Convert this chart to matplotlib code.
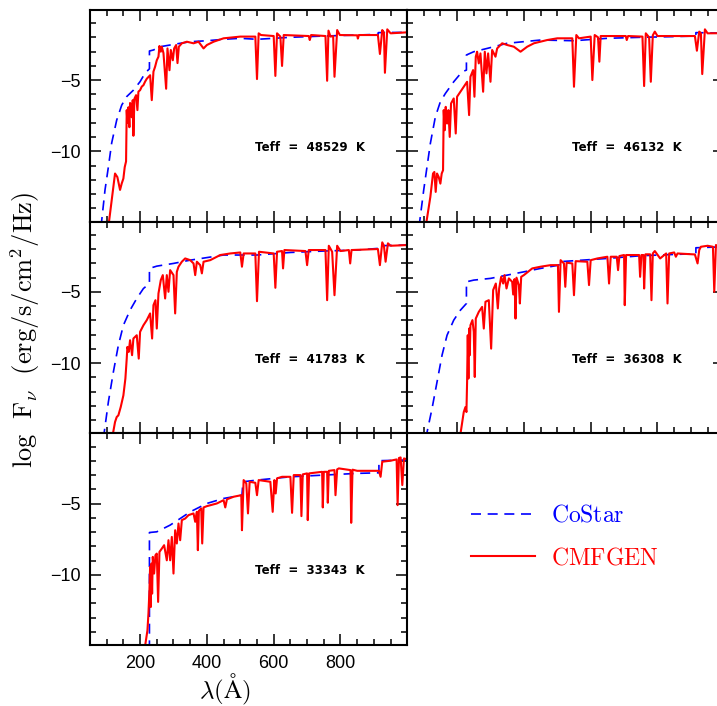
import numpy as np
import matplotlib
matplotlib.use('Agg')
import matplotlib.pyplot as plt
from matplotlib.ticker import MultipleLocator

plt.rcParams['font.family'] = ['Liberation Sans', 'DejaVu Sans']
plt.rcParams['mathtext.fontset'] = 'cm'

# --- data: wavelength (A) and log F_nu ---
teffs = [48529, 46132, 41783, 36308, 33343]

# Teff = 48529 K
costar_wl_1 = [83, 95, 105, 115, 130, 145, 160, 180, 200, 215,
               228, 228, 240, 260, 290, 320, 350, 400, 450, 500,
               550, 600, 650, 750, 850, 913, 913, 1000]
costar_lf_1 = [-15.3, -12.7, -11.1, -9.4, -7.8, -6.75, -6.15, -5.7, -5.1, -4.5,
               -4.2, -2.95, -2.88, -2.65, -2.53, -2.41, -2.30, -2.23, -2.13, -2.06,
               -2.13, -2.06, -1.99, -1.90, -1.83, -1.78, -1.66, -1.64]
cmfgen_wl_1 = [105, 125, 132, 140, 145, 150, 154, 158, 160, 162,
               165, 168, 170, 175, 178, 180, 183, 188, 192, 195,
               200, 205, 210, 215, 220, 230, 235, 240, 245, 250,
               255, 258, 262, 265, 270, 278, 282, 288, 292, 298,
               302, 308, 312, 316, 325, 340, 360, 375, 390, 400,
               420, 450, 500, 545, 550, 555, 562, 600, 605, 610,
               620, 625, 630, 705, 708, 712, 755, 760, 764, 770,
               778, 782, 790, 798, 850, 852, 855, 912, 918, 925,
               930, 933, 940, 950, 1000]
cmfgen_lf_1 = [-15.3, -11.55, -11.8, -12.7, -12.25, -11.9, -11.1, -10.7, -7.1, -8.0,
               -6.9, -8.3, -6.6, -7.6, -6.4, -8.9, -6.3, -6.05, -7.1, -5.8,
               -5.7, -5.45, -5.35, -5.1, -4.9, -4.65, -6.4, -4.4, -4.05, -3.6,
               -3.35, -2.6, -3.0, -2.65, -3.1, -5.6, -2.77, -4.3, -2.88, -3.6,
               -2.77, -2.53, -3.8, -2.65, -2.41, -2.3, -2.41, -2.3, -2.77, -2.53,
               -2.3, -2.06, -1.94, -1.94, -4.92, -1.71, -1.83, -1.9, -4.7, -1.71,
               -1.94, -4.0, -1.83, -1.9, -2.18, -1.83, -1.9, -5.04, -1.52, -1.94,
               -1.9, -4.76, -1.48, -1.83, -1.85, -2.08, -1.83, -1.83, -3.16, -1.48,
               -1.66, -4.48, -1.43, -1.71, -1.64]

# Teff = 46132 K
costar_wl_2 = [86, 100, 110, 120, 135, 150, 165, 190, 215, 228,
               228, 250, 290, 350, 450, 550, 650, 750, 850, 915,
               915, 1000]
costar_lf_2 = [-15.3, -12.73, -11.08, -9.44, -7.57, -6.51, -5.93, -5.11, -4.41, -4.29,
               -3.23, -3.0, -2.77, -2.41, -2.18, -2.23, -2.06, -1.99, -1.94, -1.9,
               -1.66, -1.7]
cmfgen_wl_2 = [106, 120, 128, 132, 136, 140, 145, 150, 154, 158,
               160, 163, 166, 170, 174, 178, 182, 190, 196, 200,
               210, 220, 230, 236, 240, 248, 252, 256, 260, 265,
               270, 278, 283, 288, 293, 300, 305, 315, 320, 335,
               350, 370, 390, 410, 430, 470, 500, 545, 550, 557,
               565, 600, 605, 612, 622, 626, 630, 705, 708, 712,
               755, 760, 765, 775, 780, 786, 792, 800, 912, 918,
               925, 930, 934, 942, 950, 1000]
cmfgen_lf_2 = [-15.3, -13.19, -11.55, -11.44, -12.84, -11.55, -11.79, -12.26, -11.55, -11.32,
               -7.10, -8.51, -6.87, -8.04, -7.10, -8.98, -6.63, -6.28, -8.74, -6.16,
               -5.81, -5.46, -5.11, -7.45, -4.76, -4.29, -6.16, -3.35, -3.0, -3.82,
               -3.12, -5.81, -3.0, -4.52, -3.12, -5.11, -2.88, -3.35, -2.77, -2.41,
               -2.53, -2.65, -3.0, -2.65, -2.41, -2.18, -2.06, -2.06, -5.46, -1.83,
               -2.06, -1.94, -4.99, -1.83, -1.99, -3.70, -1.90, -1.90, -2.18, -1.90,
               -1.94, -5.41, -1.71, -1.99, -5.11, -1.85, -1.59, -1.90, -1.90, -2.93,
               -1.59, -1.71, -4.57, -1.43, -1.71, -1.70]

# Teff = 41783 K
costar_wl_3 = [90, 105, 120, 135, 150, 170, 190, 210, 228, 228,
               250, 300, 350, 450, 550, 650, 750, 850, 915, 915,
               1000]
costar_lf_3 = [-15.3, -12.73, -10.62, -8.74, -7.34, -6.28, -5.46, -4.76, -4.41, -3.35,
               -3.19, -3.0, -2.77, -2.41, -2.41, -2.23, -2.13, -2.06, -1.94, -1.76,
               -1.71]
cmfgen_wl_3 = [116, 125, 130, 135, 142, 150, 156, 160, 162, 166,
               170, 176, 180, 190, 196, 200, 210, 220, 230, 236,
               240, 246, 250, 255, 262, 268, 275, 280, 285, 290,
               300, 305, 310, 315, 325, 335, 350, 360, 365, 370,
               380, 385, 390, 410, 440, 470, 500, 505, 510, 545,
               550, 556, 600, 605, 610, 625, 628, 632, 695, 700,
               705, 755, 760, 765, 775, 782, 790, 800, 825, 829,
               833, 912, 918, 925, 930, 935, 942, 950, 1000]
cmfgen_lf_3 = [-15.3, -14.13, -13.78, -13.66, -13.08, -12.26, -11.08, -9.68, -8.86, -9.21,
               -8.39, -9.44, -8.27, -8.04, -9.68, -7.80, -7.34, -6.98, -6.51, -8.27,
               -5.93, -5.58, -7.57, -5.11, -4.17, -3.82, -5.46, -3.82, -4.99, -3.47,
               -3.82, -6.51, -3.59, -3.23, -2.88, -2.65, -2.77, -3.0, -3.82, -2.88,
               -3.12, -3.70, -2.88, -2.77, -2.41, -2.30, -2.23, -3.23, -2.30, -2.30,
               -5.65, -2.18, -2.30, -4.71, -2.18, -2.13, -3.35, -2.06, -2.13, -3.12,
               -2.06, -2.06, -5.58, -1.76, -2.18, -5.23, -1.76, -2.13, -2.06, -3.0,
               -2.06, -1.99, -3.12, -1.52, -1.76, -2.88, -1.59, -1.76, -1.71]

# Teff = 36308 K
costar_wl_4 = [106, 125, 140, 155, 170, 190, 210, 228, 228, 250,
               300, 350, 400, 450, 505, 505, 550, 650, 750, 850,
               915, 915, 1000]
costar_lf_4 = [-15.3, -13.19, -11.32, -9.44, -8.04, -6.98, -6.28, -5.81, -4.29, -4.17,
               -4.05, -3.82, -3.59, -3.35, -3.12, -2.88, -2.81, -2.65, -2.46, -2.37,
               -2.32, -1.90, -1.83]
cmfgen_wl_4 = [208, 220, 225, 228, 230, 232, 234, 236, 238, 240,
               246, 250, 253, 256, 265, 275, 280, 285, 295, 302,
               308, 316, 322, 326, 332, 338, 342, 348, 355, 365,
               368, 372, 375, 378, 385, 388, 392, 400, 425, 450,
               480, 502, 505, 510, 520, 524, 528, 545, 550, 555,
               590, 595, 600, 620, 650, 655, 660, 678, 682, 686,
               700, 702, 706, 745, 748, 752, 758, 760, 764, 778,
               782, 786, 792, 808, 826, 830, 835, 850, 855, 860,
               912, 920, 925, 930, 950, 966, 970, 975, 980, 1000]
cmfgen_lf_4 = [-15.3, -13.43, -13.08, -13.43, -11.32, -8.04, -11.08, -7.57, -9.44, -7.34,
               -6.98, -7.80, -10.97, -6.87, -6.40, -6.05, -7.57, -5.69, -5.58, -8.98,
               -4.87, -4.41, -6.16, -4.76, -3.94, -4.41, -3.82, -4.76, -4.05, -4.29,
               -5.18, -4.10, -6.87, -4.0, -4.52, -5.81, -3.94, -3.82, -3.35, -3.23,
               -3.12, -3.12, -6.40, -2.77, -3.0, -4.64, -2.95, -3.0, -5.23, -2.84,
               -2.88, -4.52, -2.77, -2.65, -2.53, -4.41, -2.53, -2.53, -3.47, -2.48,
               -2.41, -5.93, -2.41, -2.41, -3.94, -2.41, -2.41, -4.76, -2.36, -2.36,
               -5.58, -2.30, -2.13, -2.65, -2.30, -5.81, -2.30, -2.23, -2.53, -2.30,
               -2.37, -3.0, -2.06, -1.83, -1.76, -1.83, -4.99, -1.71, -1.76, -1.74]

# Teff = 33343 K
costar_wl_5 = [228, 228, 250, 290, 320, 350, 400, 450, 505, 508,
               550, 650, 750, 850, 915, 915, 1000]
costar_lf_5 = [-15.3, -7.03, -6.98, -6.51, -6.05, -5.58, -4.99, -4.64, -4.41, -3.47,
               -3.35, -3.12, -3.0, -2.88, -2.84, -1.99, -1.94]
cmfgen_wl_5 = [213, 222, 225, 228, 230, 232, 234, 236, 238, 242,
               246, 250, 254, 258, 265, 272, 280, 285, 290, 295,
               300, 305, 310, 315, 320, 325, 335, 345, 360, 365,
               370, 373, 376, 383, 386, 390, 400, 430, 450, 455,
               460, 480, 503, 505, 510, 518, 523, 528, 545, 550,
               555, 590, 597, 602, 606, 610, 625, 650, 655, 660,
               680, 683, 687, 700, 702, 706, 745, 747, 750, 760,
               762, 765, 782, 785, 790, 795, 830, 832, 836, 850,
               915, 920, 925, 950, 968, 971, 975, 980, 985, 990,
               1000]
cmfgen_lf_5 = [-15.3, -13.9, -12.73, -11.08, -9.44, -12.26, -9.21, -11.32, -8.74, -9.91,
               -8.62, -8.51, -11.9, -8.39, -8.16, -7.92, -8.98, -7.57, -8.98, -7.34,
               -9.91, -6.87, -7.80, -6.40, -7.57, -6.16, -6.05, -5.81, -5.69, -6.28,
               -5.58, -8.27, -5.51, -5.34, -7.80, -5.27, -5.18, -4.99, -4.76, -5.27,
               -4.70, -4.52, -4.41, -6.87, -3.35, -3.59, -5.69, -3.47, -3.54, -4.41,
               -3.35, -3.47, -5.58, -3.35, -4.29, -3.23, -3.12, -3.12, -5.65, -3.0,
               -3.0, -5.88, -2.95, -2.88, -6.16, -2.88, -2.77, -5.27, -2.77, -2.77,
               -4.94, -2.70, -2.65, -4.41, -2.60, -2.53, -2.65, -6.35, -2.62, -2.70,
               -2.70, -3.12, -2.06, -1.99, -1.90, -5.11, -1.80, -1.76, -3.70, -1.83,
               -1.90]

costar_wl = [costar_wl_1, costar_wl_2, costar_wl_3, costar_wl_4, costar_wl_5]
costar_lf = [costar_lf_1, costar_lf_2, costar_lf_3, costar_lf_4, costar_lf_5]
cmfgen_wl = [cmfgen_wl_1, cmfgen_wl_2, cmfgen_wl_3, cmfgen_wl_4, cmfgen_wl_5]
cmfgen_lf = [cmfgen_lf_1, cmfgen_lf_2, cmfgen_lf_3, cmfgen_lf_4, cmfgen_lf_5]

fig = plt.figure(figsize=(7.17, 7.06), dpi=100)

lefts = [0.1255, 0.5676]
bottoms = [0.6860, 0.3861, 0.0863]
w, h = 0.4421, 0.2999

for i in range(5):
    r, c = divmod(i, 2)
    ax = fig.add_axes([lefts[c], bottoms[r], w, h])
    lb, = ax.plot(costar_wl[i], costar_lf[i], color='blue', lw=1.2, dashes=(6, 4))
    lr, = ax.plot(cmfgen_wl[i], cmfgen_lf[i], color='red', lw=1.5)
    ax.set_xlim(50, 999)
    ax.set_ylim(-14.93, -0.07)
    ax.xaxis.set_major_locator(MultipleLocator(200))
    ax.xaxis.set_minor_locator(MultipleLocator(50))
    ax.yaxis.set_major_locator(MultipleLocator(5))
    ax.yaxis.set_minor_locator(MultipleLocator(1))
    ax.tick_params(which='both', direction='in', top=True, right=True, width=1.1,
                   labelsize=13, labelleft=(c == 0), labelbottom=(i == 4))
    ax.tick_params(which='major', length=8, pad=7)
    ax.tick_params(which='minor', length=4)
    for s in ax.spines.values():
        s.set_linewidth(1.5)
    ax.text(0.695, 0.35, f'Teff  =  {teffs[i]}  K', transform=ax.transAxes,
            ha='center', va='center', fontsize=8.5, fontweight='bold',
            family='DejaVu Sans')
    if i == 0:
        handles = [lb, lr]

fig.text(0.035, 0.533, r'$\mathrm{log\ \ F_{\nu}\ \ (erg/s/cm^2/Hz)}$',
         rotation=90, ha='center', va='center', fontsize=19)
fig.text(0.314, 0.0113, r'$\lambda(\mathrm{\AA})$', ha='center', va='baseline',
         fontsize=18)

fig.legend(handles, [r'$\mathrm{CoStar}$', r'$\mathrm{CMFGEN}$'],
           loc='center left', bbox_to_anchor=(0.657, 0.2394), frameon=False,
           fontsize=17, handlelength=2.7, handletextpad=0.7, labelspacing=0.85,
           borderpad=0, borderaxespad=0, labelcolor='linecolor')

fig.savefig('out.png', dpi=100)
